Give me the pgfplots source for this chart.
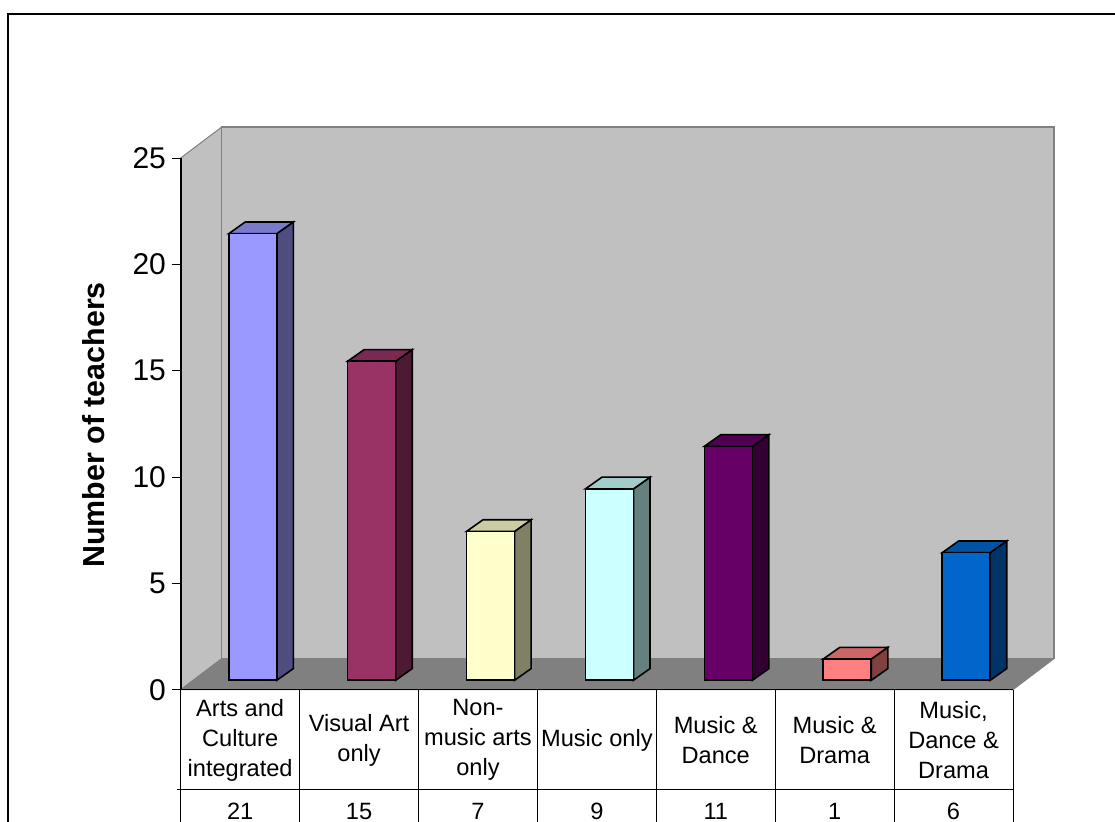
\documentclass[border=0pt]{standalone}
\usepackage{fontspec}
\setmainfont{Liberation Sans}
\usepackage{pgfplots}
\pgfplotsset{compat=1.18}
\definecolor{f1}{HTML}{9999FF}\definecolor{t1}{HTML}{7A7ACC}\definecolor{s1}{HTML}{4D4D80}
\definecolor{f2}{HTML}{993366}\definecolor{t2}{HTML}{7A2952}\definecolor{s2}{HTML}{4D1A33}
\definecolor{f3}{HTML}{FFFFCC}\definecolor{t3}{HTML}{CCCCA3}\definecolor{s3}{HTML}{808066}
\definecolor{f4}{HTML}{CCFFFF}\definecolor{t4}{HTML}{A3CCCC}\definecolor{s4}{HTML}{668080}
\definecolor{f5}{HTML}{660066}\definecolor{t5}{HTML}{520052}\definecolor{s5}{HTML}{330033}
\definecolor{f6}{HTML}{FF8080}\definecolor{t6}{HTML}{CC6666}\definecolor{s6}{HTML}{804040}
\definecolor{f7}{HTML}{0066CC}\definecolor{t7}{HTML}{0052A3}\definecolor{s7}{HTML}{003366}
\definecolor{wallc}{HTML}{C0C0C0}\definecolor{floorc}{HTML}{808080}
% category position, value, colour index
\newcommand{\threedbar}[3]{%
  \pgfmathsetmacro{\xa}{#1+0.404}%
  \pgfmathsetmacro{\xb}{#1+0.808}%
  \pgfmathsetmacro{\xc}{#1+0.947}%
  \pgfmathsetmacro{\xd}{#1+0.543}%
  \pgfmathsetmacro{\xm}{#1+0.606}%
  \pgfmathsetmacro{\yb}{0.442}%
  \pgfmathsetmacro{\yc}{0.992}%
  \pgfmathsetmacro{\yt}{#2+0.442}%
  \pgfmathsetmacro{\ytt}{#2+0.992}%
  \addplot[draw=black,line width=1.6pt,fill=s#3] coordinates {(\xb,\yb)(\xc,\yc)(\xc,\ytt)(\xb,\yt)} -- cycle;
  \addplot[draw=black,line width=1.6pt,fill=t#3] coordinates {(\xa,\yt)(\xb,\yt)(\xc,\ytt)(\xd,\ytt)} -- cycle;
  \addplot[ybar,bar width=48pt,bar shift=0pt,yshift=9.4pt,draw=black,line width=1.6pt,fill=f#3] coordinates {(\xm,#2)};
}
\begin{document}
\begin{tikzpicture}
\useasboundingbox (0,0) rectangle (1115pt,821pt);
\clip (0,0) rectangle (1115pt,821pt);
\fill[white] (0,0) rectangle (1115pt,821pt);
\draw[black,line width=1.5pt] (8pt,-2pt) -- (8pt,807pt) -- (1117pt,807pt);
\begin{axis}[
  at={(180.7pt,131.3pt)},anchor=south west,
  scale only axis,width=832.3pt,height=531.7pt,
  xmin=0,xmax=7,ymin=0,ymax=25,clip=false,
  axis lines=left,axis line style={-,black,line width=1.6pt},
  axis on top,
  tick align=outside,
  ytick={0,5,10,15,20,25},
  ytick style={black,line width=0.8pt,/pgfplots/major tick length=9pt},
  yticklabel style={font=\fontsize{30}{30}\selectfont,/pgf/number format/assume math mode=true,xshift=-7pt},
  xtick={0.5,1.5,2.5,3.5,4.5,5.5,6.5},
  xticklabels={{Arts and\\Culture\\integrated},{Visual Art\\only},{Non-\\music arts\\only},{Music only},{Music \&\\Dance},{Music \&\\Drama},{Music,\\Dance \&\\Drama}},
  xtick style={draw=none,/pgfplots/major tick length=0pt},
  xticklabel style={font=\fontsize{23.6}{30}\selectfont,align=center,anchor=center,yshift=-46pt},
  extra x ticks={0,1,2,3,4,5,6,7},
  extra x tick labels={},
  extra x tick style={tick align=outside,xtick style={draw=black,line width=0.8pt,/pgfplots/major tick length=134pt}},
  ylabel={\textbf{Number of teachers}},
  every axis y label/.style={at={(axis description cs:-0.105,0.498)},rotate=90,anchor=center,font=\fontsize{30.4}{30}\selectfont},
]
\addplot[draw=floorc,line width=1pt,fill=wallc] coordinates {(0,0)(0,25)(0.345,26.457)(0.345,1.457)} -- cycle;
\addplot[draw=floorc,line width=1.2pt,fill=wallc] coordinates {(0.345,1.457)(0.345,26.457)(7.345,26.457)(7.345,1.457)} -- cycle;
\addplot[draw=floorc,line width=0.8pt,fill=floorc] coordinates {(0,0)(0.345,1.457)(7.345,1.457)(7,0)} -- cycle;
\threedbar{0}{21}{1}
\threedbar{1}{15}{2}
\threedbar{2}{7}{3}
\threedbar{3}{9}{4}
\threedbar{4}{11}{5}
\threedbar{5}{1}{6}
\threedbar{6}{6}{7}
\draw[black,line width=0.8pt] (axis cs:-0.031,-4.683) -- (axis cs:7,-4.683);
\foreach \i/\v in {0.5/21,1.5/15,2.5/7,3.5/9,4.5/11,5.5/1,6.5/6}{
  \edef\temp{\noexpand\node[font=\noexpand\fontsize{23.6}{30}\noexpand\selectfont] at (axis cs:\i,-5.72) {\v};}
  \temp
}
\end{axis}
\end{tikzpicture}
\end{document}
